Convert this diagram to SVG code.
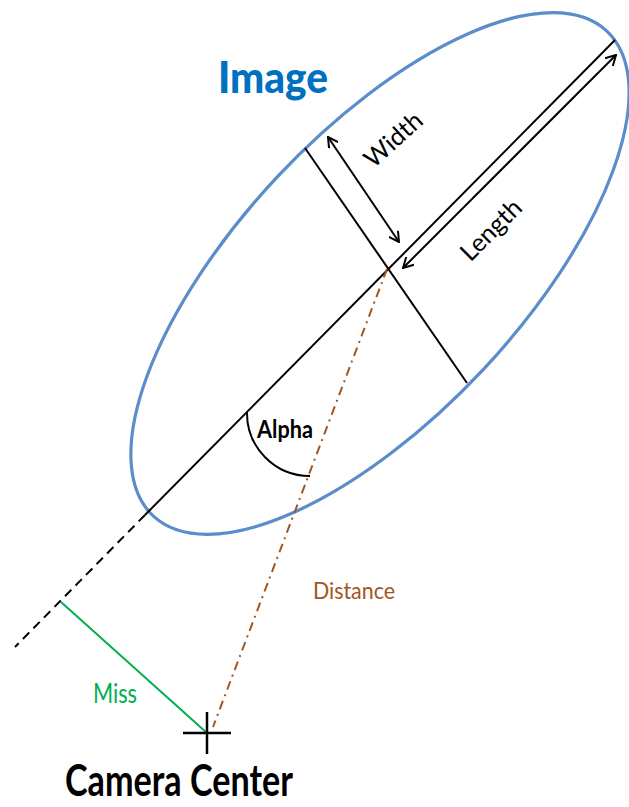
<svg xmlns="http://www.w3.org/2000/svg" width="629" height="807" viewBox="0 0 629 807">
<style>
.t{font-family:Lato,"Liberation Sans",sans-serif}
.b{font-weight:bold}
.ax{stroke:#000;stroke-width:2;fill:none}
</style>
<defs>
<marker id="chev" viewBox="0 0 12 12" refX="11" refY="6" markerWidth="12" markerHeight="12" markerUnits="userSpaceOnUse" orient="auto-start-reverse">
<path d="M1,0.5 L11,6 L1,11.5" fill="none" stroke="#000" stroke-width="2"/>
</marker>
</defs>
<rect width="629" height="807" fill="#fff"/>
<g id="image-ellipse">
<ellipse cx="380" cy="273.5" rx="332" ry="141" transform="rotate(-46.9 380 273.5)" fill="none" stroke="#5A8DCA" stroke-width="3.2"/>
<text class="t" x="218" y="93" font-size="43" font-weight="900" fill="#0070C0" textLength="110" lengthAdjust="spacingAndGlyphs">Image</text>
</g>
<g id="connectors">
<line class="ax" x1="145" y1="515" x2="615" y2="40"/>
<line class="ax" x1="305" y1="148" x2="467" y2="383"/>
<line x1="145" y1="515" x2="15" y2="647" stroke="#000" stroke-width="2" stroke-dasharray="9 6"/>
<line x1="387" y1="269" x2="213" y2="727" stroke="#A0561E" stroke-width="2" stroke-dasharray="9 5 2 5"/>
<line x1="61" y1="602" x2="207" y2="733" stroke="#00B050" stroke-width="2"/>
<line class="ax" x1="328" y1="137" x2="399" y2="242" marker-start="url(#chev)" marker-end="url(#chev)"/>
<line class="ax" x1="616" y1="55" x2="403" y2="268" marker-start="url(#chev)" marker-end="url(#chev)"/>
<path class="ax" d="M247,412 A63,63 0 0 0 310,476" stroke-width="2.5"/>
</g>
<g id="width-label">
<text class="t" font-size="25" text-anchor="middle" transform="translate(399 146) rotate(-42)">Width</text>
</g>
<g id="length-label">
<text class="t" font-size="25" text-anchor="middle" transform="translate(497 236) rotate(-45)">Length</text>
</g>
<g id="alpha-label">
<text class="t b" x="257" y="438" font-size="25" textLength="56" lengthAdjust="spacingAndGlyphs">Alpha</text>
</g>
<g id="distance-label">
<text class="t" x="313" y="599" font-size="24" fill="#A0561E" textLength="82" lengthAdjust="spacingAndGlyphs">Distance</text>
</g>
<g id="miss-label">
<text class="t" x="93" y="703" font-size="26" fill="#00B050" textLength="44" lengthAdjust="spacingAndGlyphs">Miss</text>
</g>
<g id="camera-center">
<line x1="183" y1="733" x2="231" y2="733" stroke="#000" stroke-width="2.5"/>
<line x1="207" y1="712" x2="207" y2="754" stroke="#000" stroke-width="2.5"/>
<text class="t b" x="65" y="796" font-size="43" textLength="228" lengthAdjust="spacingAndGlyphs">Camera Center</text>
</g>
</svg>
